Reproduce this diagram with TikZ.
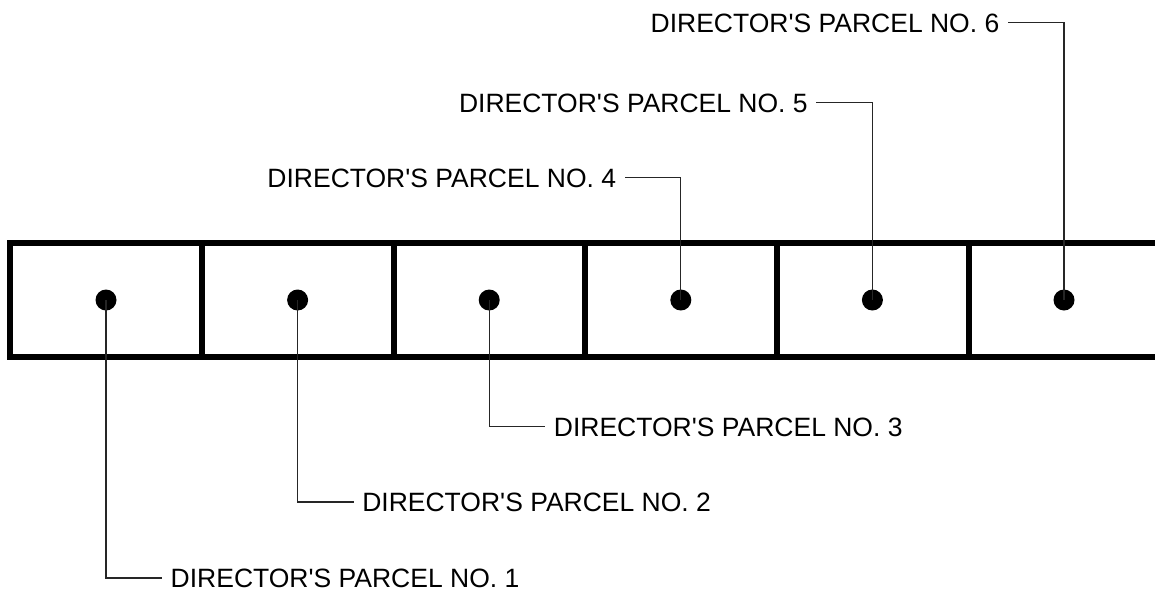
\documentclass[tikz,border=0pt]{standalone}
\usepackage{fontspec}
\setmainfont{Liberation Sans}
\newcommand{\dirparcel}[1]{DIRECTOR\textquotesingle S PARCEL NO. #1}
\begin{document}
\begin{tikzpicture}[x=1pt,y=-1pt,
  strip/.style={line width=6pt, line join=miter},
  dot/.style={circle, fill=black, minimum size=21pt, inner sep=0pt},
  leader/.style={line width=1.1pt, black!85},
  lab/.style={font=\fontsize{26.5}{30}\selectfont, text height=19pt, text depth=0pt, inner xsep=8.5pt, inner ysep=0pt}]
\useasboundingbox (0,0) rectangle (1155,592);
% strip
\draw[strip] (1160,242.5) -- (10,242.5) -- (10,357) -- (1160,357);
\foreach \k in {1,...,5}{
  \draw[strip] (10+191.8*\k,242.5) -- (10+191.8*\k,357);
}
% dots
\node[dot] (d1) at (106,300) {};
\node[dot] (d2) at (297.6,300) {};
\node[dot] (d3) at (489.2,300) {};
\node[dot] (d4) at (680.8,300) {};
\node[dot] (d5) at (872.4,300) {};
\node[dot] (d6) at (1064,300) {};
% labels
\node[lab, anchor=west] (l1) at (162,578) {\dirparcel{1}};
\node[lab, anchor=west] (l2) at (353.6,502) {\dirparcel{2}};
\node[lab, anchor=west] (l3) at (545.2,426.5) {\dirparcel{3}};
\node[lab, anchor=east] (l4) at (624.8,177.7) {\dirparcel{4}};
\node[lab, anchor=east] (l5) at (816.4,102.7) {\dirparcel{5}};
\node[lab, anchor=east] (l6) at (1008,22.5) {\dirparcel{6}};
% leaders
\draw[leader] (d1.center) |- (l1.west);
\draw[leader] (d2.center) |- (l2.west);
\draw[leader] (d3.center) |- (l3.west);
\draw[leader] (d4.center) |- (l4.east);
\draw[leader] (d5.center) |- (l5.east);
\draw[leader] (d6.center) |- (l6.east);
\end{tikzpicture}
\end{document}
